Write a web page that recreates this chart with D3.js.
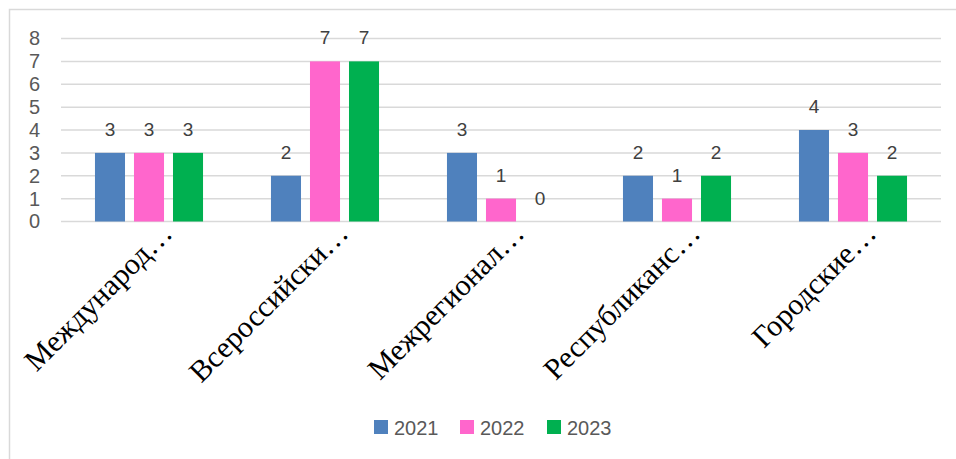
<!DOCTYPE html>
<html>
<head>
<meta charset="utf-8">
<script src="https://cdn.jsdelivr.net/npm/d3@7"></script>
<style>
  html, body { margin: 0; padding: 0; background: #fff; }
  svg { display: block; }
</style>
</head>
<body>
<svg id="chart" width="956" height="459"></svg>
<script>
/* ── Data ─────────────────────────────── */
const categories = ["Международ…", "Всероссийски…", "Межрегионал…", "Республиканс…", "Городские…"];
const seriesNames = ["2021", "2022", "2023"];
const values2021 = [3, 2, 3, 2, 4];
const values2022 = [3, 7, 1, 1, 3];
const values2023 = [3, 7, 0, 2, 2];
const yTicks = [0, 1, 2, 3, 4, 5, 6, 7, 8];
const colors = ["#4F81BD", "#FF66CC", "#00B050"];

const seriesValues = [values2021, values2022, values2023];

/* ── Layout ───────────────────────────── */
const svg = d3.select("#chart");
const plot = { left: 61, right: 941, top: 38.5, bottom: 221.5 };

svg.append("rect")
    .attr("x", 9.5).attr("y", 9.5)
    .attr("width", 960).attr("height", 470)
    .attr("fill", "#fff")
    .attr("stroke", "#d9d9d9").attr("stroke-width", 1.5);

const y = d3.scaleLinear().domain([0, 8]).range([plot.bottom, plot.top]);
const x0 = d3.scaleBand().domain(categories)
    .range([plot.left, plot.right])
    .paddingInner(0.386).paddingOuter(0.193);
const x1 = d3.scaleBand().domain(seriesNames)
    .range([0, x0.bandwidth()])
    .paddingInner(0.23).paddingOuter(0);

/* gridlines */
svg.append("g").selectAll("line")
    .data(yTicks).join("line")
    .attr("x1", plot.left).attr("x2", plot.right)
    .attr("y1", d => y(d)).attr("y2", d => y(d))
    .attr("stroke", "#d9d9d9").attr("stroke-width", 1.5);

/* y axis labels */
const yAxis = d3.axisLeft(y).tickValues(yTicks).tickSize(0).tickPadding(0);
const gy = svg.append("g").attr("transform", "translate(40,0)").call(yAxis);
gy.select(".domain").remove();
gy.selectAll("text")
    .attr("font-family", "Liberation Sans, Arial, sans-serif")
    .attr("font-size", 20).attr("fill", "#595959");

/* bars */
const rows = categories.map((c, i) => ({
    category: c,
    items: seriesNames.map((s, j) => ({ series: s, value: seriesValues[j][i], color: colors[j] }))
}));

const groups = svg.append("g").selectAll("g")
    .data(rows).join("g")
    .attr("transform", d => `translate(${x0(d.category)},0)`);

groups.selectAll("rect")
    .data(d => d.items).join("rect")
    .attr("x", d => x1(d.series))
    .attr("y", d => y(d.value))
    .attr("width", x1.bandwidth())
    .attr("height", d => y(0) - y(d.value))
    .attr("fill", d => d.color);

groups.selectAll("text")
    .data(d => d.items).join("text")
    .attr("x", d => x1(d.series) + x1.bandwidth() / 2)
    .attr("y", d => y(d.value) - 17)
    .attr("text-anchor", "middle")
    .attr("font-family", "Liberation Sans, Arial, sans-serif")
    .attr("font-size", 19).attr("fill", "#404040")
    .text(d => d.value);

/* category labels */
svg.append("g").selectAll("text")
    .data(categories).join("text")
    .attr("transform", d => `translate(${x0(d) + x0.bandwidth() / 2 + 25},235) rotate(-45)`)
    .attr("text-anchor", "end")
    .attr("font-family", "Liberation Serif, Times New Roman, serif")
    .attr("font-size", 30).attr("fill", "#000")
    .text(d => d);

/* legend */
const legendX = [374, 460, 547];
const legend = svg.append("g").selectAll("g")
    .data(seriesNames).join("g")
    .attr("transform", (d, i) => `translate(${legendX[i]},420)`);
legend.append("rect")
    .attr("width", 14).attr("height", 14)
    .attr("fill", (d, i) => colors[i]);
legend.append("text")
    .attr("x", 20).attr("y", 14.5)
    .attr("font-family", "Liberation Sans, Arial, sans-serif")
    .attr("font-size", 20).attr("fill", "#595959")
    .text(d => d);
</script>
</body>
</html>
